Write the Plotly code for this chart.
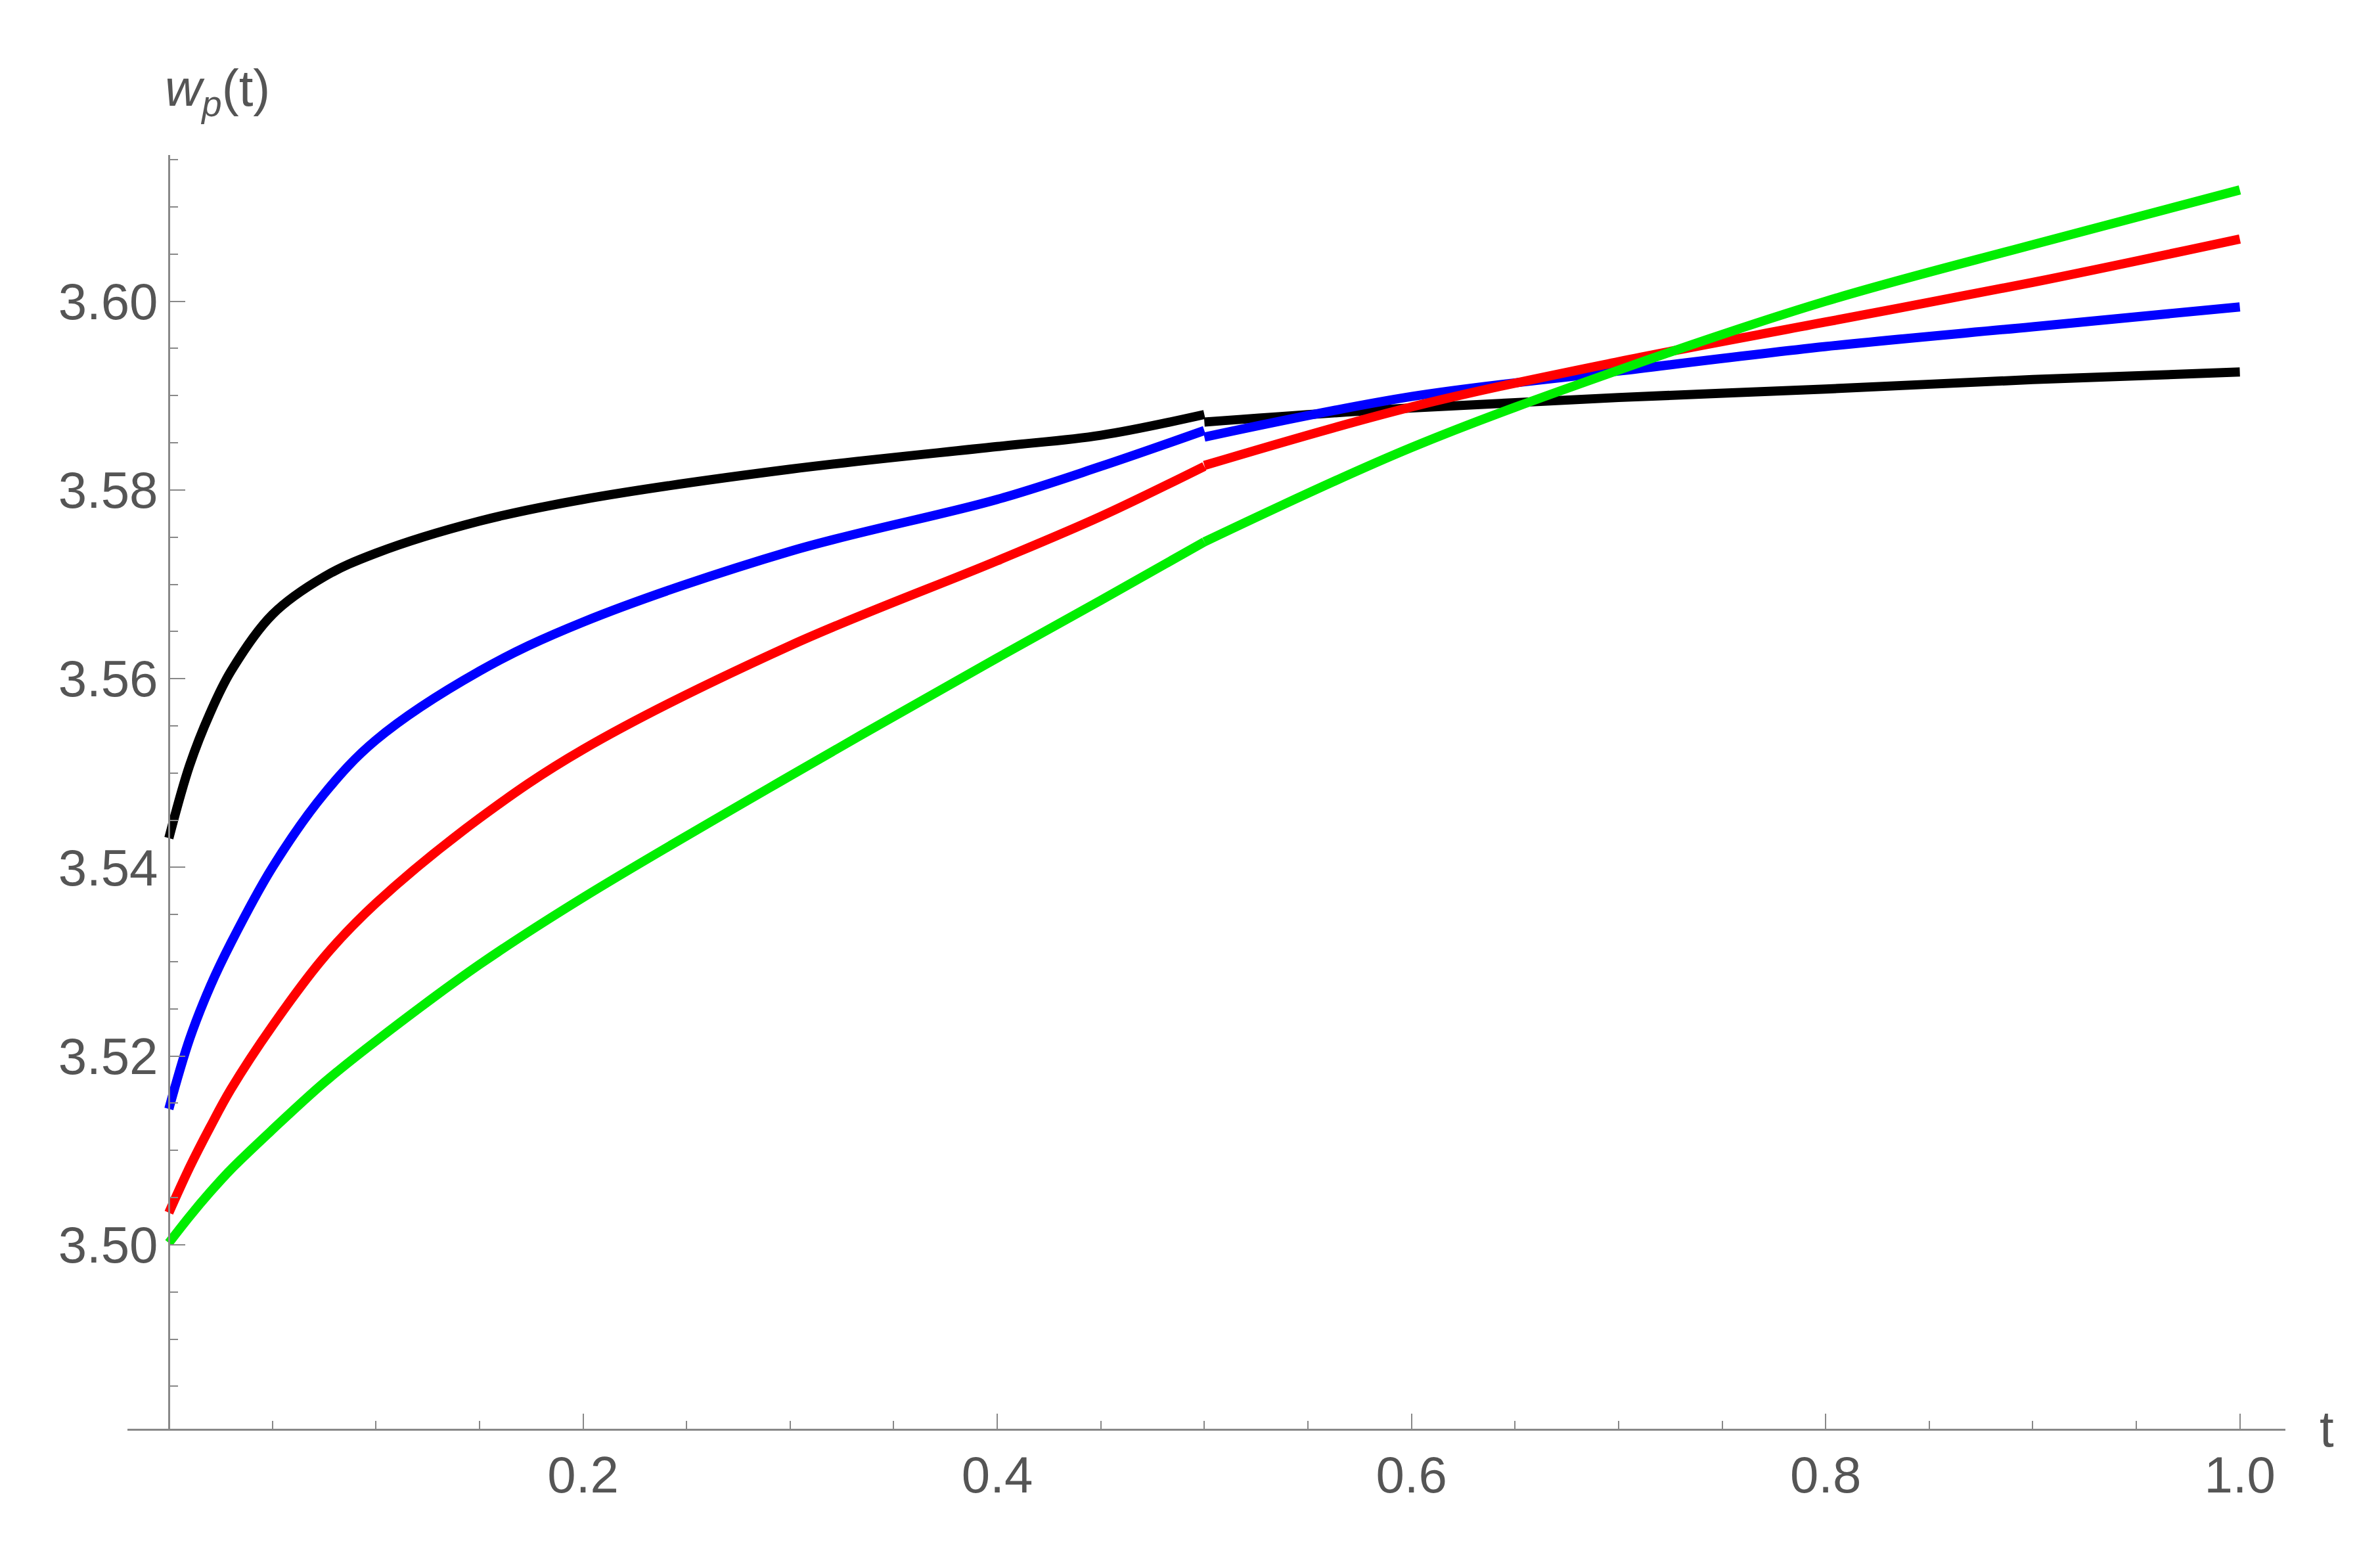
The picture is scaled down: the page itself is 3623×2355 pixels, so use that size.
import plotly.graph_objects as go

t1 = [0, 0.01, 0.02, 0.03, 0.05, 0.075, 0.1, 0.15, 0.2, 0.3, 0.4, 0.45, 0.5]
black1 = [3.5431, 3.5508, 3.5564, 3.5608, 3.5668, 3.5708, 3.5733, 3.5767, 3.5790, 3.5822, 3.5846, 3.5858, 3.5880]
blue1 = [3.5144, 3.5218, 3.5274, 3.5320, 3.5400, 3.5478, 3.5535, 3.5608, 3.5660, 3.5735, 3.5790, 3.5825, 3.5863]
red1 = [3.5034, 3.5082, 3.5125, 3.5165, 3.5232, 3.5305, 3.5362, 3.5452, 3.5525, 3.5635, 3.5725, 3.5772, 3.5825]
green1 = [3.5002, 3.5030, 3.5056, 3.5080, 3.5122, 3.5172, 3.5216, 3.5297, 3.5368, 3.5497, 3.5622, 3.5683, 3.5745]
t2 = [0.5, 0.6, 0.7, 0.8, 0.9, 1.0]
black2 = [3.5872, 3.5887, 3.5898, 3.5907, 3.5917, 3.5925]
blue2 = [3.5856, 3.5899, 3.5926, 3.5952, 3.5973, 3.5994]
red2 = [3.5826, 3.5888, 3.5936, 3.5978, 3.6020, 3.6066]
green2 = [3.5745, 3.5845, 3.5927, 3.6000, 3.6060, 3.6118]

fig = go.Figure()
for color, a, b in [("black", black1, black2), ("#0000ff", blue1, blue2),
                    ("#ff0000", red1, red2), ("#00ee00", green1, green2)]:
    for t, y in [(t1, a), (t2, b)]:
        fig.add_trace(go.Scatter(x=t, y=y, mode="lines", showlegend=False,
                                 line=dict(color=color, width=14, shape="spline", smoothing=1.0)))

axcol = "#888888"
fig.update_layout(
    width=3623, height=2355, plot_bgcolor="white", paper_bgcolor="white",
    margin=dict(l=186, r=152, t=228, b=188),
    font=dict(family="Liberation Sans, Arial", color="#555555", size=78),
    xaxis=dict(range=[-0.02, 1.022], tickvals=[0.2, 0.4, 0.6, 0.8, 1.0], ticktext=["0.2", "0.4", "0.6", "0.8", "1.0"],
               ticks="inside", ticklen=23, tickwidth=2, tickcolor=axcol, showline=True, linecolor=axcol, linewidth=3,
               showgrid=False, zeroline=False,
               minor=dict(dtick=0.05, tick0=0, ticks="inside", ticklen=12, tickcolor=axcol, showgrid=False)),
    yaxis=dict(range=[3.4805, 3.6155], anchor="free", position=0.02 / 1.042,
               tickvals=[3.50, 3.52, 3.54, 3.56, 3.58, 3.60], ticktext=["3.50", "3.52", "3.54", "3.56", "3.58", "3.60"],
               ticks="inside", ticklen=23, tickwidth=2, tickcolor=axcol, showline=True, linecolor=axcol, linewidth=3,
               showgrid=False, zeroline=False,
               minor=dict(dtick=0.005, tick0=3.5, ticks="inside", ticklen=12, tickcolor=axcol, showgrid=False)),
    annotations=[
        dict(text="t", x=1.0, xref="paper", xanchor="left", xshift=50, y=3.4805, yref="y", yanchor="middle",
             showarrow=False, font=dict(size=78, color="#555555")),
        dict(text="<i>w<sub>p</sub></i>(t)", x=0.0, xref="paper", xanchor="left", xshift=55,
             y=1.0, yref="paper", yanchor="bottom", yshift=45, showarrow=False, font=dict(size=78, color="#555555")),
    ],
)
fig.write_html("out.html")
